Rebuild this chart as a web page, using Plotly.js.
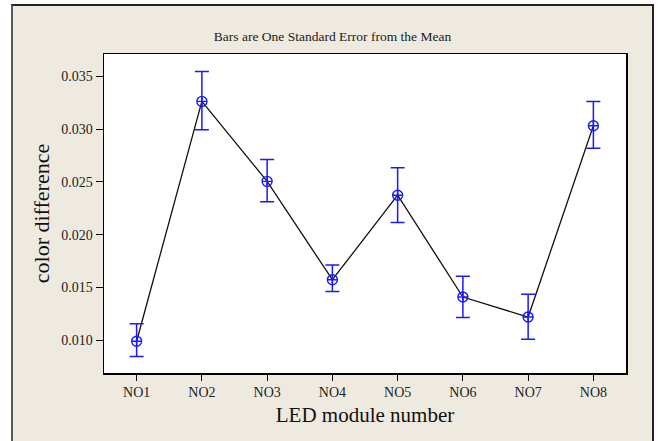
<!DOCTYPE html>
<html>
<head>
<meta charset="utf-8">
<script src="https://cdn.plot.ly/plotly-3.0.1.min.js"></script>
<style>
  html, body { margin: 0; padding: 0; background: #ffffff; width: 659px; height: 441px; overflow: hidden; }
  #frame { position: absolute; left: 11px; top: 4px; width: 639px; height: 437px;
           border-left: 2px solid #5a5a5a; border-top: 2px solid #222; border-right: 2px solid #222;
           background: #EEEAE0; }
  #chart { width: 639px; height: 435px; }
</style>
</head>
<body>
<div id="frame"><div id="chart"></div></div>
<script>
const modules = ["NO1", "NO2", "NO3", "NO4", "NO5", "NO6", "NO7", "NO8"];
const meanDiff = [0.00990, 0.03263, 0.02505, 0.01573, 0.02374, 0.01409, 0.01219, 0.03032];
const upperBar = [0.01156, 0.03545, 0.02713, 0.01713, 0.02635, 0.01607, 0.01435, 0.03261];
const lowerBar = [0.00846, 0.02995, 0.02313, 0.01462, 0.02116, 0.01216, 0.01009, 0.02819];
const yTicks = [0.010, 0.015, 0.020, 0.025, 0.030, 0.035];
const yTickText = ["0.010", "0.015", "0.020", "0.025", "0.030", "0.035"];

const errPlus = meanDiff.map((m, i) => upperBar[i] - m);
const errMinus = meanDiff.map((m, i) => m - lowerBar[i]);

const serif = "Liberation Serif, Times New Roman, serif";

const lineTrace = {
  x: modules, y: meanDiff, type: "scatter", mode: "lines",
  line: { color: "#111111", width: 1.3 }, hoverinfo: "skip", showlegend: false
};
const pointTrace = {
  x: modules, y: meanDiff, type: "scatter", mode: "markers",
  marker: { symbol: "circle-cross-open", size: 10, color: "#1a1aff", line: { width: 1.4, color: "#1a1aff" } },
  error_y: { type: "data", symmetric: false, array: errPlus, arrayminus: errMinus,
             color: "#1a1aff", thickness: 1.5, width: 7 },
  showlegend: false
};

const layout = {
  width: 639, height: 435,
  paper_bgcolor: "#EEEAE0", plot_bgcolor: "#ffffff",
  margin: { l: 91, r: 26, t: 48, b: 68 },
  font: { family: serif, color: "#222222" },
  title: { text: "Bars are One Standard Error from the Mean", font: { family: serif, size: 13.5, color: "#222" },
           x: 0.5, xref: "container", y: 0.931, yref: "container", yanchor: "middle" },
  xaxis: {
    type: "category", range: [-0.5, 7.5],
    showline: true, mirror: true, linecolor: "#000", linewidth: 1.5,
    ticks: "outside", ticklen: 6, tickcolor: "#000", tickwidth: 1,
    tickfont: { family: serif, size: 14, color: "#222" },
    showgrid: false, zeroline: false,
    title: { text: "LED module number", font: { family: serif, size: 21, color: "#111" }, standoff: 8 }
  },
  yaxis: {
    range: [0.00689, 0.03712],
    tickvals: yTicks, ticktext: yTickText,
    showline: true, mirror: true, linecolor: "#000", linewidth: 1.5,
    ticks: "outside", ticklen: 7, tickcolor: "#000", tickwidth: 1,
    tickfont: { family: serif, size: 14, color: "#222" },
    showgrid: false, zeroline: false,
    title: { text: "color difference", font: { family: serif, size: 22, color: "#111" }, standoff: 5 }
  }
};

Plotly.newPlot("chart", [lineTrace, pointTrace], layout, { displayModeBar: false, staticPlot: true });
</script>
</body>
</html>
